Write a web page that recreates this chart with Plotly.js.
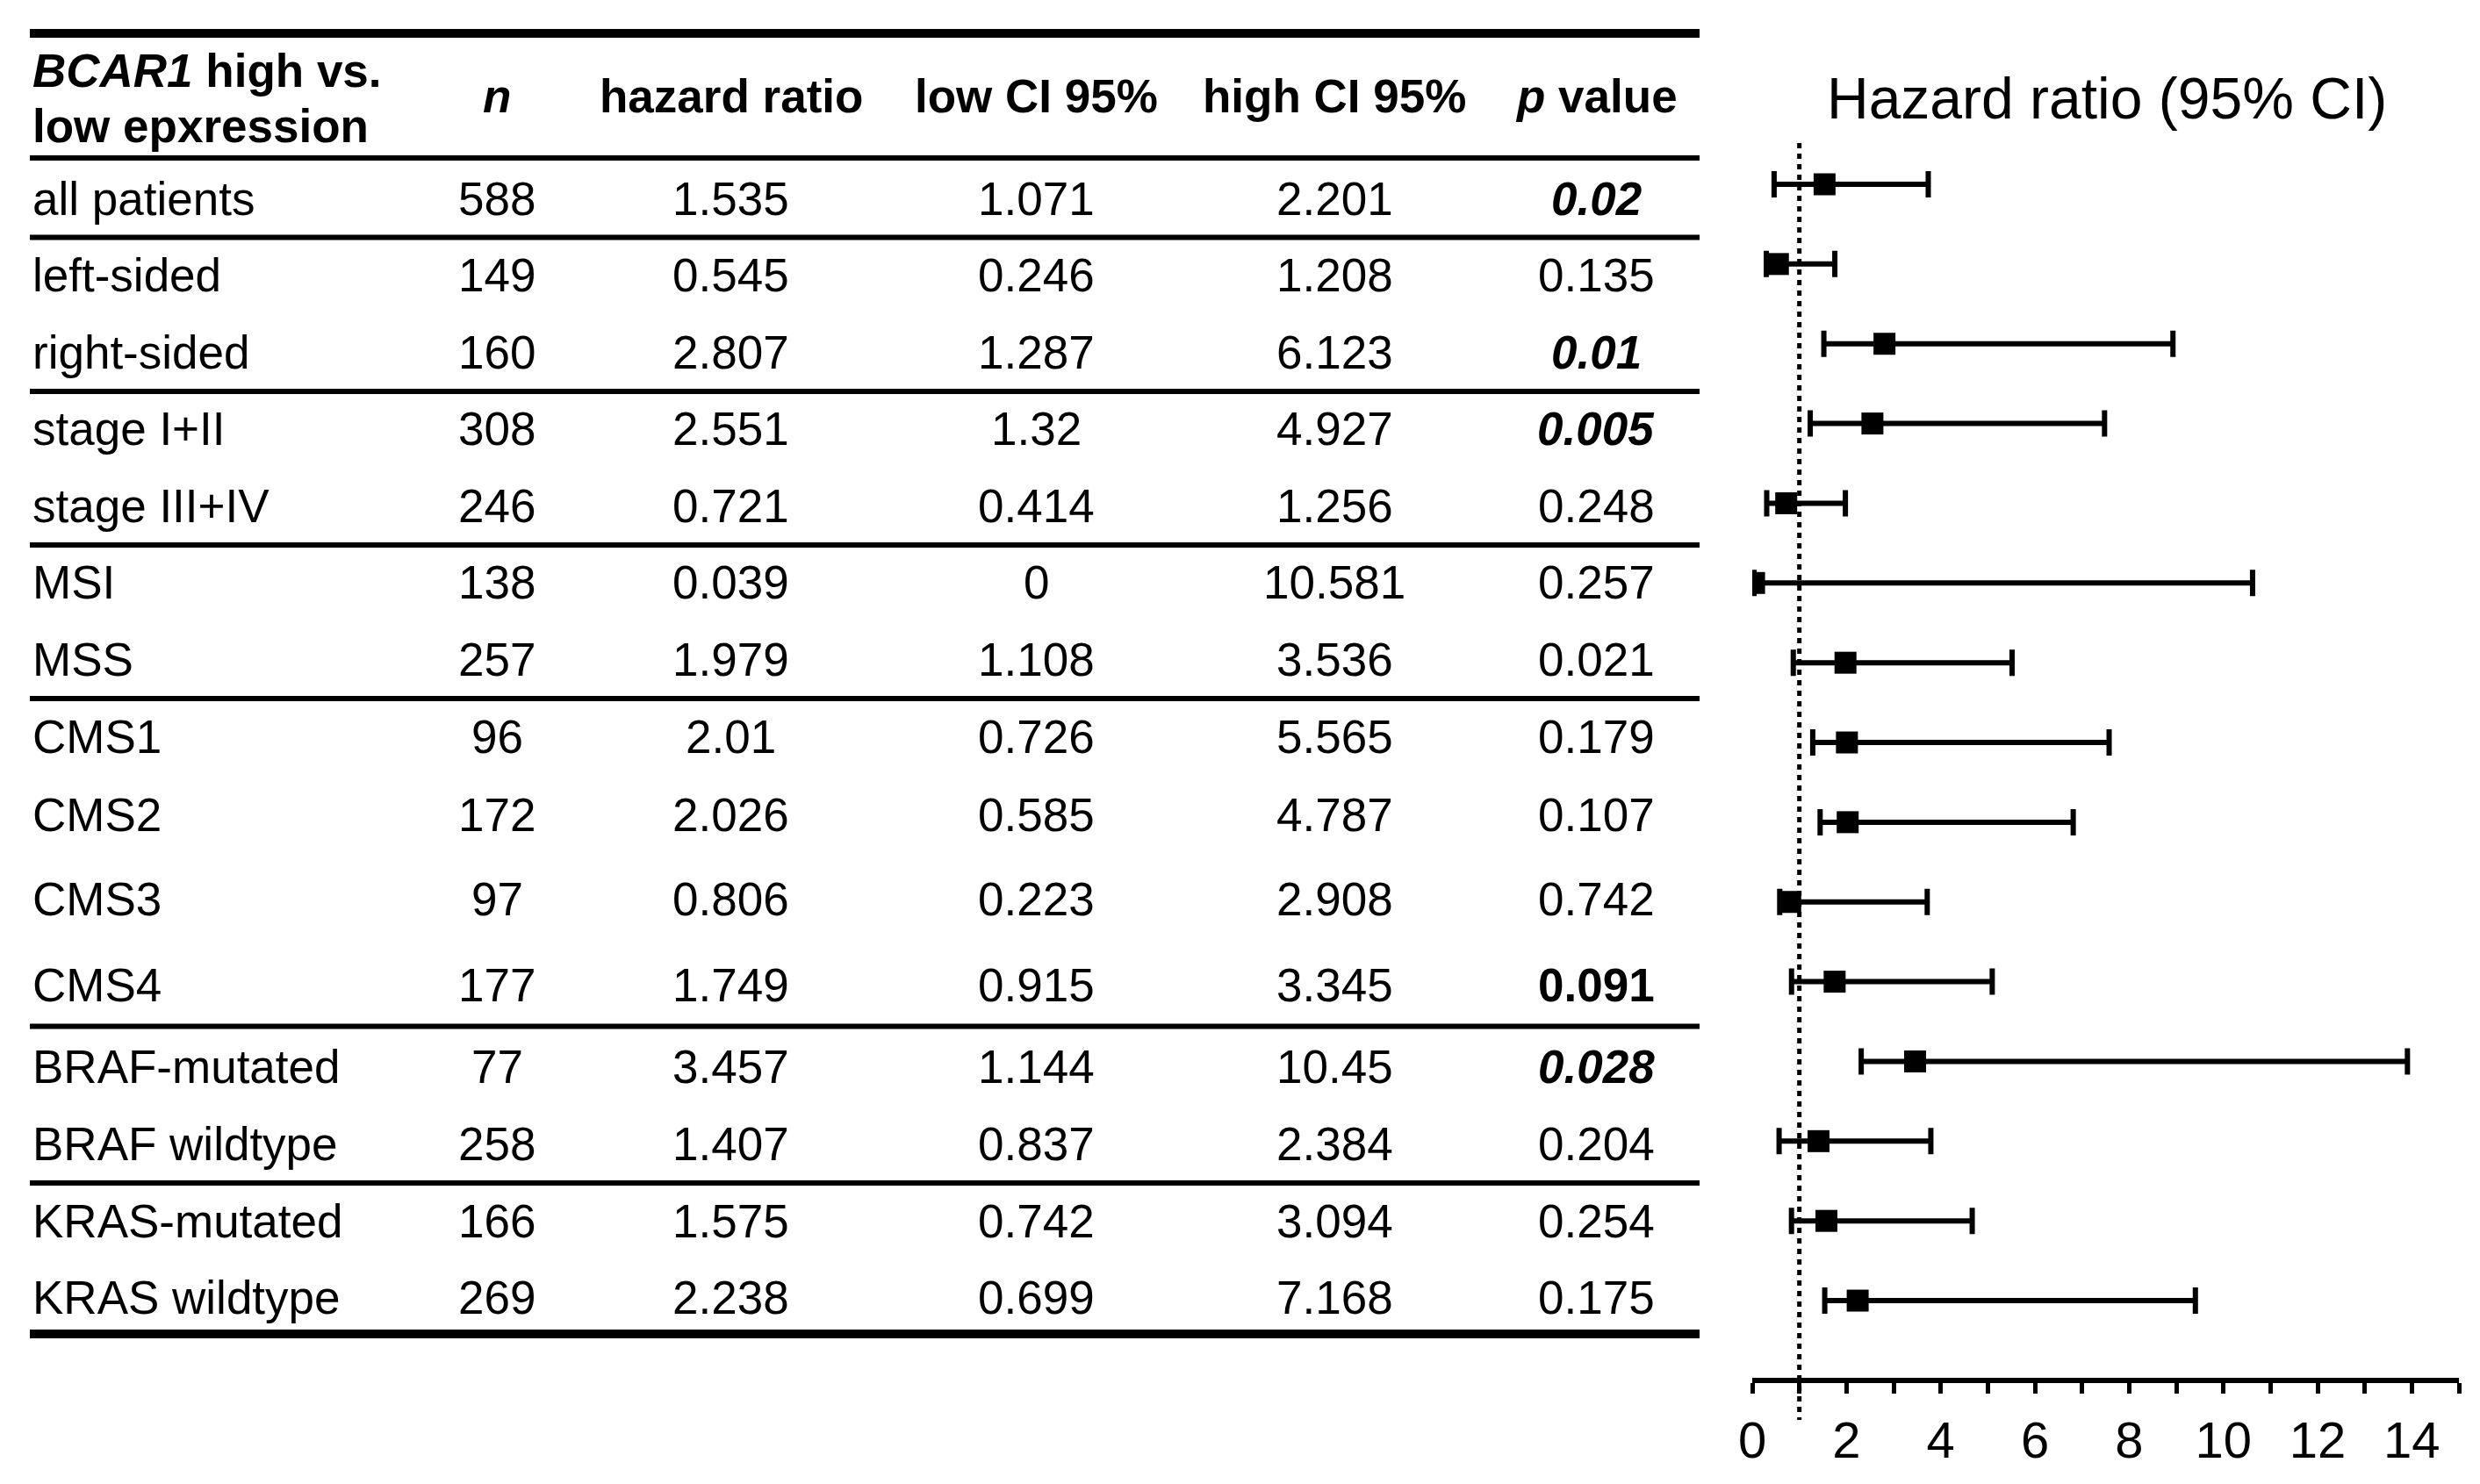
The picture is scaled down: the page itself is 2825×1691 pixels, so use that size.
<!DOCTYPE html>
<html>
<head>
<meta charset="utf-8">
<script src="https://cdn.plot.ly/plotly-3.0.1.min.js"></script>
<style>
  html, body { margin: 0; padding: 0; background: #ffffff; }
  #chart { width: 2825px; height: 1691px; }
</style>
</head>
<body>
<div id="chart"></div>
<script>
// ---------------- DATA ----------------
const subgroups = ['all patients', 'left-sided', 'right-sided', 'stage I+II', 'stage III+IV',
  'MSI', 'MSS', 'CMS1', 'CMS2', 'CMS3', 'CMS4', 'BRAF-mutated', 'BRAF wildtype',
  'KRAS-mutated', 'KRAS wildtype'];
const nPatients   = [588, 149, 160, 308, 246, 138, 257, 96, 172, 97, 177, 77, 258, 166, 269];
const hazardRatio = [1.535, 0.545, 2.807, 2.551, 0.721, 0.039, 1.979, 2.01, 2.026, 0.806, 1.749, 3.457, 1.407, 1.575, 2.238];
const lowCI       = [1.071, 0.246, 1.287, 1.32, 0.414, 0, 1.108, 0.726, 0.585, 0.223, 0.915, 1.144, 0.837, 0.742, 0.699];
const highCI      = [2.201, 1.208, 6.123, 4.927, 1.256, 10.581, 3.536, 5.565, 4.787, 2.908, 3.345, 10.45, 2.384, 3.094, 7.168];
const pValue      = ['0.02', '0.135', '0.01', '0.005', '0.248', '0.257', '0.021', '0.179', '0.107', '0.742', '0.091', '0.028', '0.204', '0.254', '0.175'];
// significance flag: 'sig' = significant (bold italic), 'trend' = bold
const pFlag       = ['sig', '', 'sig', 'sig', '', '', '', '', '', '', 'trend', 'sig', '', '', ''];
const groupBreaksAfter = [0, 2, 4, 6, 10, 12];
const referenceHR = 1;
const xTickValues = [0, 1, 2, 3, 4, 5, 6, 7, 8, 9, 10, 11, 12, 13, 14, 15];
const xTickLabels = ['0', '', '2', '', '4', '', '6', '', '8', '', '10', '', '12', '', '14', ''];
const plotTitle = 'Hazard ratio (95% CI)';
const headerLabel1 = '<b><i>BCAR1</i> high vs.</b>';
const headerLabel2 = '<b>low epxression</b>';
const headers = ['<b><i>n</i></b>', '<b>hazard ratio</b>', '<b>low CI 95%</b>', '<b>high CI 95%</b>', '<b><i>p</i> value</b>'];

// ---------------- LAYOUT HELPERS ----------------
const W = 2825, H = 1691;
const FONT = '"Liberation Sans", Arial, Helvetica, sans-serif';
const px = v => v / W;
const py = v => 1 - v / H;

const tableLeft = 34, tableRight = 1936;
const labelX = 35;
const colCenters = [566, 833, 1180, 1520, 1818];
const rowCenters = [226, 313, 401, 489, 576, 664, 751, 839, 928, 1024, 1122, 1215, 1303, 1391, 1478];
const headerY = 110, header1Y = 81, header2Y = 143;
const tableFontSize = 53;

const annotations = [];
const shapes = [];

function addText(text, xPix, yPix, anchor, size) {
  annotations.push({
    text: text, x: px(xPix), y: py(yPix), xref: 'paper', yref: 'paper',
    xanchor: anchor, yanchor: 'middle', showarrow: false,
    font: { family: FONT, size: size || tableFontSize, color: '#000' }
  });
}

// header
addText(headerLabel1, labelX, header1Y, 'left');
addText(headerLabel2, labelX, header2Y, 'left');
headers.forEach((h, i) => addText(h, colCenters[i], headerY, 'center'));

// body rows
subgroups.forEach((g, i) => {
  const y = rowCenters[i];
  addText(g, labelX, y, 'left');
  addText(String(nPatients[i]), colCenters[0], y, 'center');
  addText(String(hazardRatio[i]), colCenters[1], y, 'center');
  addText(String(lowCI[i]), colCenters[2], y, 'center');
  addText(String(highCI[i]), colCenters[3], y, 'center');
  let p = pValue[i];
  if (pFlag[i] === 'sig') p = '<b><i>' + p + '</i></b>';
  else if (pFlag[i] === 'trend') p = '<b>' + p + '</b>';
  addText(p, colCenters[4], y, 'center');
});

// table rules
function hRule(yPix, width) {
  shapes.push({
    type: 'line', xref: 'paper', yref: 'paper',
    x0: px(tableLeft), x1: px(tableRight), y0: py(yPix), y1: py(yPix),
    line: { color: '#000', width: width }
  });
}
hRule(38, 10);
hRule(180, 6);
groupBreaksAfter.forEach(i => hRule((rowCenters[i] + rowCenters[i + 1]) / 2 + 1, 6));
hRule(1520, 10);

// plot title
addText(plotTitle, 2400, 112, 'center', 66);

// reference line at HR = 1
shapes.push({
  type: 'line', xref: 'x', yref: 'paper',
  x0: referenceHR, x1: referenceHR, y0: py(163), y1: py(1618),
  line: { color: '#000', width: 5, dash: '6px,6px' }
});

// forest axes geometry
const plotLeft = 1996, plotRight = 2801;
const firstRowPix = 210, rowStep = 90.86;
const axisPix = 1570, topPix = 119;
const yBottomVal = (axisPix - firstRowPix) / rowStep;
const yTopVal = (topPix - firstRowPix) / rowStep;

const trace = {
  type: 'scatter', mode: 'markers',
  x: hazardRatio, y: subgroups,
  marker: { symbol: 'square', size: 25, color: '#000', line: { width: 0 } },
  error_x: {
    type: 'data', symmetric: false,
    array: highCI, arrayminus: lowCI,
    color: '#000', thickness: 6, width: 15
  },
  cliponaxis: true,
  hoverinfo: 'skip',
  showlegend: false
};

const layout = {
  width: W, height: H,
  margin: { l: 0, r: 0, t: 0, b: 0, pad: 0 },
  paper_bgcolor: '#ffffff', plot_bgcolor: 'rgba(0,0,0,0)',
  showlegend: false,
  font: { family: FONT, color: '#000' },
  xaxis: {
    domain: [px(plotLeft), px(plotRight)],
    range: [0, 15],
    tickmode: 'array', tickvals: xTickValues, ticktext: xTickLabels,
    ticks: 'outside', ticklen: 12, tickwidth: 5, tickcolor: '#000',
    showline: true, linewidth: 6, linecolor: '#000',
    showgrid: false, zeroline: false,
    tickfont: { family: FONT, size: 58, color: '#000' },
    ticklabelstandoff: 3,
    fixedrange: true
  },
  yaxis: {
    domain: [py(axisPix), py(topPix)],
    type: 'category',
    categoryorder: 'array', categoryarray: subgroups,
    range: [yBottomVal, yTopVal],
    visible: false, showgrid: false, zeroline: false, fixedrange: true
  },
  annotations: annotations,
  shapes: shapes
};

Plotly.newPlot('chart', [trace], layout, { displayModeBar: false, staticPlot: true });
</script>
</body>
</html>
